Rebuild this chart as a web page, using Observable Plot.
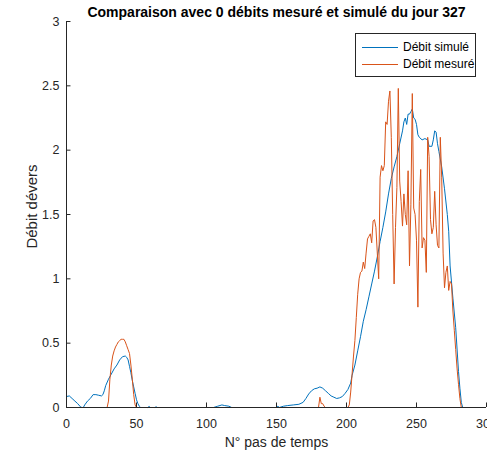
<!DOCTYPE html>
<html>
<head>
<meta charset="utf-8">
<script src="https://cdn.jsdelivr.net/npm/d3@7"></script>
<script src="https://cdn.jsdelivr.net/npm/@observablehq/plot@0.6"></script>
<style>
  html, body { margin: 0; padding: 0; background: #fff; }
  #wrap { position: relative; width: 487px; height: 459px; font-family: "Liberation Sans", Arial, sans-serif; }
  #legend { position: absolute; left: 355px; top: 33px; width: 119px; height: 42px; border: 1px solid #262626; background: #fff; font-size: 12px; color: #000; white-space: nowrap; }
  .row { position: absolute; left: 0; height: 16px; display: flex; align-items: center; white-space: nowrap; }
  .swatch { display: inline-block; width: 36px; height: 0; border-top: 1px solid; margin-left: 6px; margin-right: 5px; }
</style>
</head>
<body>
<div id="wrap">
  <div id="chart"></div>
  <div id="legend">
    <div class="row" style="top:5px"><span class="swatch" style="border-color:#0072BD"></span><span>Débit simulé</span></div>
    <div class="row" style="top:22px"><span class="swatch" style="border-color:#D95319"></span><span>Débit mesuré</span></div>
  </div>
</div>
<script>
const titleText = "Comparaison avec 0 débits mesuré et simulé du jour 327";
const xLabel = "N° pas de temps";
const yLabel = "Débit dévers";
const seriesNames = ["Débit simulé", "Débit mesuré"];
const xTicks = [0, 50, 100, 150, 200, 250, 300];
const yTicks = [0, 0.5, 1, 1.5, 2, 2.5, 3];

const simX = [0,2,4,6,8,10,11,12,13,15,17,19,21,23,25,26,27,28,30,32,34,36,38,40,42,43,44,45,46,47,48,49,50,51,52,53,58,59,60,63,64,65,105,108,111,113,116,118,150,151,152,155,158,162,166,169,171,173,175,177,179,181,183,185,187,189,191,193,195,197,199,201,203,204,206,208,210,212,214,216,218,220,222,224,226,228,230,232,234,236,238,240,241,242,243,244,245,246,247,248,249,250,251,252,254,256,258,259,261,262,263,264,265,266,268,270,272,273,274,276,278,280,281,282,283,288];
const simY = [0.085,0.09,0.07,0.05,0.03,0.005,0,0,0.02,0.05,0.07,0.1,0.1,0.095,0.09,0.1,0.13,0.17,0.22,0.26,0.3,0.33,0.37,0.395,0.4,0.39,0.37,0.32,0.27,0.21,0.16,0.11,0.06,0.03,0.01,0,0,0.008,0,0,0.005,0,0,0.01,0.02,0.015,0.01,0,0,0.01,0,0.01,0.015,0.02,0.025,0.04,0.07,0.105,0.13,0.145,0.15,0.16,0.15,0.13,0.11,0.09,0.08,0.07,0.075,0.085,0.11,0.14,0.19,0.25,0.33,0.44,0.55,0.67,0.76,0.86,0.96,1.06,1.17,1.29,1.4,1.52,1.66,1.78,1.87,1.95,2.05,2.15,2.22,2.25,2.2,2.28,2.28,2.3,2.32,2.25,2.24,2.2,2.12,2.1,2.08,2.09,2.08,2.03,2.03,2.08,2.15,2.14,2.05,1.99,1.87,1.7,1.5,1.37,1.1,0.85,0.62,0.28,0.15,0.04,0,0];

const mesX = [0,29,30,31,32,33,34,35,36,37,38,39,40,41,42,43,44,45,46,47,48,49,50,180,181,182,183,184,185,201,202,203,204,205,206,207,208,209,210,211,212,213,214,215,216,217,218,219,220,221,222,223,224,225,226,227,228,229,230,231,232,233,234,235,236,237,238,239,240,241,242,243,244,245,246,247,248,249,250,251,252,253,254,255,256,257,258,259,260,261,262,263,264,265,266,267,268,269,270,271,272,273,274,275,276,277,278,279,280,281,282,288];
const mesY = [0,0,0.05,0.22,0.33,0.4,0.44,0.47,0.49,0.51,0.52,0.53,0.53,0.53,0.51,0.48,0.45,0.42,0.33,0.22,0.1,0.02,0,0,0.08,0.03,0.03,0.01,0,0,0.02,0.12,0.26,0.4,0.52,0.7,0.88,1.0,1.05,1.06,1.13,1.08,1.2,1.31,1.33,1.35,1.28,1.45,1.46,1.4,1.2,1.0,1.79,1.88,1.84,1.88,2.22,2.2,2.38,2.46,2.1,1.5,0.96,1.4,1.71,2.48,1.76,1.6,1.41,1.66,1.5,1.42,1.84,1.1,1.58,2.44,1.55,1.5,1.3,0.78,1.6,1.85,1.24,1.32,1.3,1.05,2.1,1.95,1.46,1.35,1.4,1.68,1.42,1.26,1.24,2.1,1.79,1.2,0.93,1.05,1.1,0.91,0.98,0.96,0.75,0.6,0.45,0.3,0.18,0.07,0,0];

const sim = simX.map((x, i) => ({x, y: simY[i], s: seriesNames[0]}));
const mes = mesX.map((x, i) => ({x, y: mesY[i], s: seriesNames[1]}));

const axisColor = "#262626";
const chart = Plot.plot({
  width: 487,
  height: 459,
  marginLeft: 66,
  marginRight: 1,
  marginTop: 21,
  marginBottom: 52,
  style: {fontFamily: "'Liberation Sans', Arial, sans-serif", background: "white", overflow: "visible"},
  x: {domain: [0, 300]},
  y: {domain: [0, 3]},
  marks: [
    Plot.line(sim, {x: "x", y: "y", stroke: "#0072BD", strokeWidth: 1}),
    Plot.line(mes, {x: "x", y: "y", stroke: "#D95319", strokeWidth: 1}),
    Plot.ruleX([0], {stroke: axisColor, strokeWidth: 1}),
    Plot.ruleY([0], {stroke: axisColor, strokeWidth: 1}),
    Plot.ruleX(xTicks, {y1: 0, y2: 0.035, stroke: axisColor, strokeWidth: 1}),
    Plot.ruleY(yTicks, {x1: 0, x2: 3.2, stroke: axisColor, strokeWidth: 1}),
    Plot.axisX(xTicks, {tickSize: 0, tickPadding: 12, fontSize: 12.5, fill: axisColor, label: null, tickFormat: d => String(d)}),
    Plot.axisY(yTicks, {tickSize: 0, tickPadding: 7, fontSize: 12.5, fill: axisColor, label: null, tickFormat: d => String(d)}),
    Plot.text([xLabel], {frameAnchor: "bottom", dy: 39, text: d => d, fontSize: 14, fill: axisColor}),
    Plot.text([yLabel], {frameAnchor: "left", textAnchor: "middle", dx: -34, dy: -8, rotate: -90, text: d => d, fontSize: 15, fill: axisColor}),
    Plot.text([titleText], {frameAnchor: "top", dy: -14, text: d => d, fontSize: 14, fontWeight: "bold", fill: "#000"})
  ]
});
document.getElementById("chart").appendChild(chart);
</script>
</body>
</html>
